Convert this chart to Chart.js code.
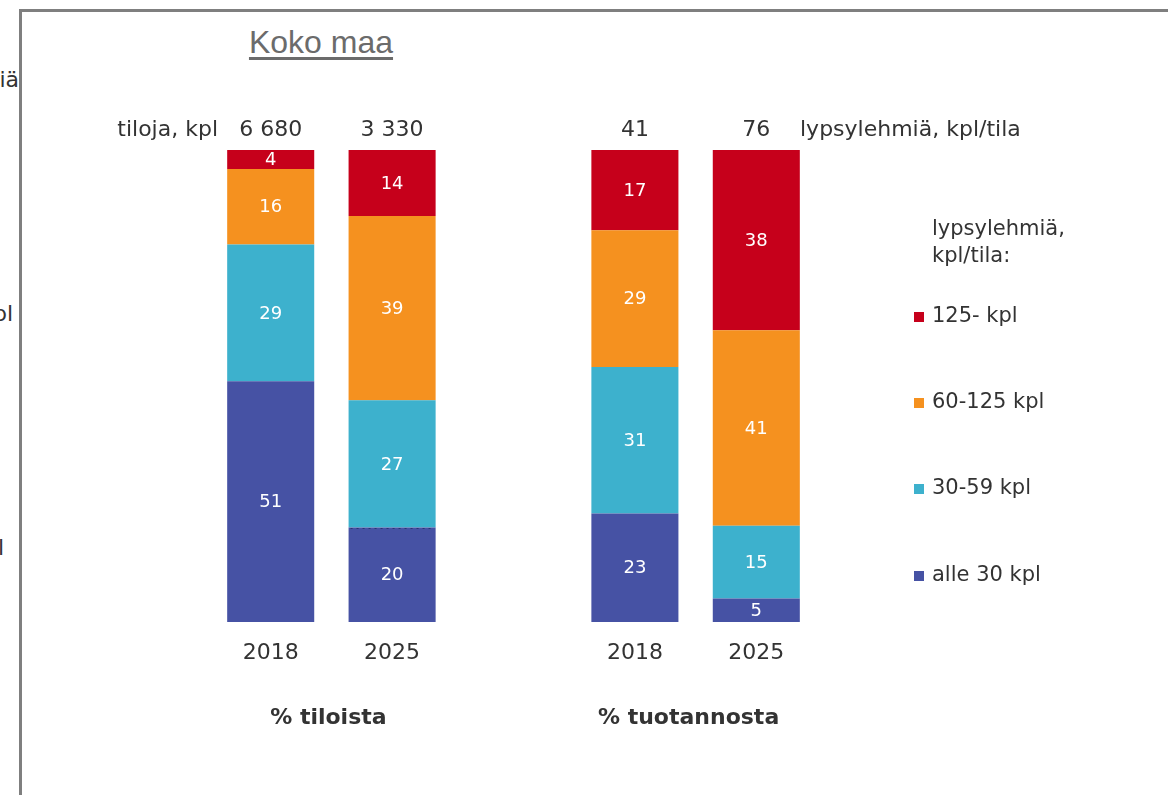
<!DOCTYPE html>
<html>
<head>
<meta charset="utf-8">
<script src="https://cdn.jsdelivr.net/npm/chart.js@4"></script>
<style>
    html, body { margin: 0; padding: 0; width: 1168px; height: 795px; overflow: hidden; background: #fff; }
    #frame { position: absolute; left: 19px; top: 9px; width: 1200px; height: 900px; border: 3px solid #7f7f7f; }
    #title { position: absolute; left: 221px; top: 24px; width: 200px; text-align: center; font-family: "Liberation Sans", Arial, sans-serif; font-size: 32px; color: #6b6b6b; text-decoration: underline; text-underline-offset: 4px; }
    .cut { position: absolute; font-family: "DejaVu Sans", Verdana, sans-serif; font-size: 22px; color: #333; white-space: nowrap; }
    #chartBox { position: absolute; left: 0; top: 0; width: 1168px; height: 795px; }
</style>
</head>
<body>
<div class="cut" style="top: 67px; right: 1149px;">lypsylehmiä</div>
<div class="cut" style="top: 301px; right: 1155px;">kpl</div>
<div class="cut" style="top: 535px; right: 1164px;">kpl</div>
<div id="frame"></div>
<div id="title">Koko maa</div>
<div id="chartBox"><canvas id="chart" width="1168" height="795"></canvas></div>
<script>
const years = ['2018', '2025', '', '2018', '2025'];
const alle30 = [51, 20, null, 23, 5];
const kpl30to59 = [29, 27, null, 31, 15.4];
const kpl60to125 = [16, 39, null, 29, 41.4];
const kpl125 = [4, 14, null, 17, 38.2];
const totals = ['6 680', '3 330', '', '41', '76'];
const groupTitles = ['% tiloista', '% tuotannosta'];
const seriesNames = ['alle 30 kpl', '30-59 kpl', '60-125 kpl', '125- kpl'];
const seriesColors = ['#4652a4', '#3db1cd', '#f5911f', '#c6001b'];

const fontFamily = '"DejaVu Sans", Verdana, sans-serif';
const textColor = '#333333';

const labelsPlugin = {
    id: 'labels',
    afterDatasetsDraw(chart) {
        const ctx = chart.ctx;
        ctx.save();
        ctx.fillStyle = '#ffffff';
        ctx.font = '18px ' + fontFamily;
        ctx.textAlign = 'center';
        ctx.textBaseline = 'middle';
        chart.data.datasets.forEach((ds, d) => {
            chart.getDatasetMeta(d).data.forEach((bar, i) => {
                if (ds.data[i] === null) return;
                ctx.fillText(String(Math.round(ds.data[i])), bar.x, (bar.y + bar.base) / 2 + 1);
            });
        });
        // dotted seam between the two lowest 2025 segments of the first group
        const seam = chart.getDatasetMeta(0).data[1];
        ctx.strokeStyle = '#2b3470';
        ctx.setLineDash([2, 4]);
        ctx.lineWidth = 1;
        ctx.beginPath();
        ctx.moveTo(seam.x - seam.width / 2 + 2, Math.round(seam.y) + 0.5);
        ctx.lineTo(seam.x + seam.width / 2 - 2, Math.round(seam.y) + 0.5);
        ctx.stroke();
        ctx.restore();
    },
    afterDraw(chart) {
        const ctx = chart.ctx;
        const xScale = chart.scales.x;
        ctx.save();
        ctx.fillStyle = textColor;
        ctx.textBaseline = 'middle';

        // totals above the bars
        ctx.font = '22px ' + fontFamily;
        ctx.textAlign = 'center';
        totals.forEach((t, i) => {
            if (t) ctx.fillText(t, xScale.getPixelForValue(i), 130);
        });
        ctx.textAlign = 'right';
        ctx.fillText('tiloja, kpl', 218, 130);
        ctx.textAlign = 'left';
        ctx.fillText('lypsylehmiä, kpl/tila', 800, 130);

        // group titles under the years
        ctx.font = 'bold 22px ' + fontFamily;
        ctx.textAlign = 'center';
        const g1 = (xScale.getPixelForValue(0) + xScale.getPixelForValue(1)) / 2;
        const g2 = (xScale.getPixelForValue(3) + xScale.getPixelForValue(4)) / 2;
        ctx.fillText(groupTitles[0], g1 - 3, 718);
        ctx.fillText(groupTitles[1], g2 - 7, 718);

        // legend
        ctx.font = '21px ' + fontFamily;
        ctx.textAlign = 'left';
        ctx.fillText('lypsylehmiä,', 932, 230);
        ctx.fillText('kpl/tila:', 932, 257);
        const legendY = [576, 489, 403, 317];
        seriesNames.forEach((name, s) => {
            ctx.fillStyle = seriesColors[s];
            ctx.fillRect(914, legendY[s] - 5, 10, 10);
            ctx.fillStyle = textColor;
            ctx.fillText(name, 932, legendY[s]);
        });
        ctx.restore();
    }
};

const makeSet = (label, data, color) => ({
    label: label,
    data: data,
    backgroundColor: color,
    borderWidth: 0,
    categoryPercentage: 1,
    barPercentage: 0.717
});

new Chart(document.getElementById('chart').getContext('2d'), {
    type: 'bar',
    data: {
        labels: years,
        datasets: [
            makeSet(seriesNames[0], alle30, seriesColors[0]),
            makeSet(seriesNames[1], kpl30to59, seriesColors[1]),
            makeSet(seriesNames[2], kpl60to125, seriesColors[2]),
            makeSet(seriesNames[3], kpl125, seriesColors[3])
        ]
    },
    options: {
        responsive: false,
        animation: false,
        layout: {
            padding: { left: 210, right: 351, top: 150, bottom: 113 }
        },
        plugins: {
            legend: { display: false },
            tooltip: { enabled: false }
        },
        scales: {
            x: {
                stacked: true,
                grid: { display: false, drawTicks: false },
                border: { display: false },
                ticks: {
                    padding: 18,
                    color: textColor,
                    font: { family: fontFamily, size: 22 }
                },
                afterFit: scale => { scale.height = 60; }
            },
            y: {
                stacked: true,
                display: false,
                min: 0,
                max: 100
            }
        }
    },
    plugins: [labelsPlugin]
});
</script>
</body>
</html>
